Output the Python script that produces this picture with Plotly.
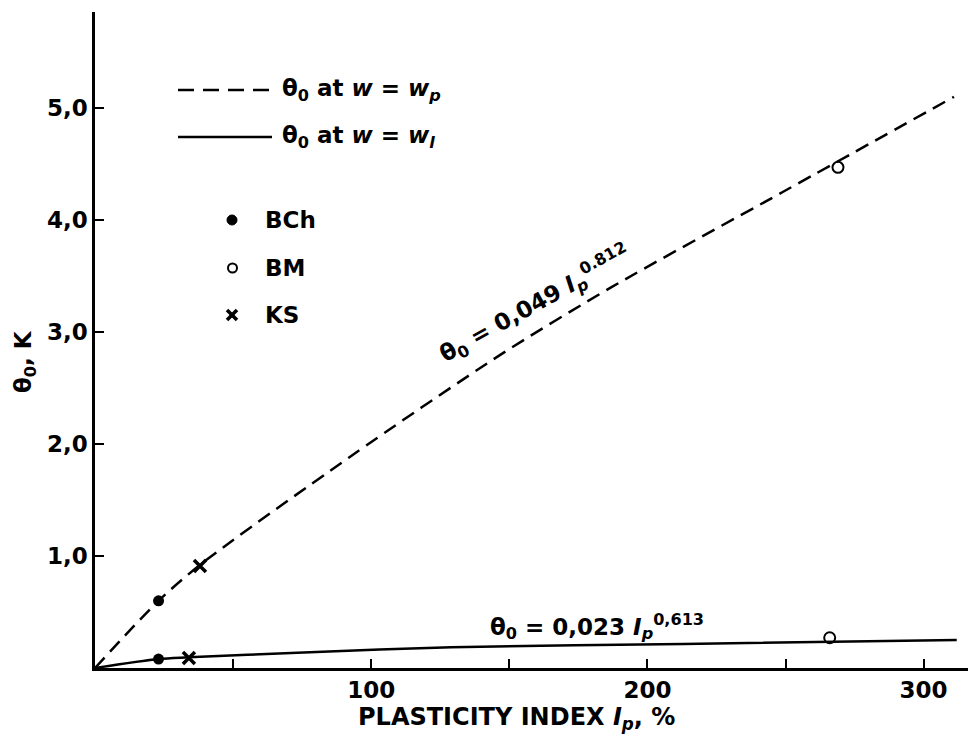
import plotly.graph_objects as go

# ---- data ----
wp_x = [0, 23, 38, 92, 147, 187, 249, 311]
wp_y = [0, 0.60, 0.92, 1.88, 2.80, 3.40, 4.25, 5.10]
wl_x = [0, 23, 34, 71, 129, 213, 312]
wl_y = [0, 0.08, 0.095, 0.134, 0.185, 0.215, 0.25]
bch_x = [23, 23]
bch_y = [0.60, 0.08]
bm_x = [269, 266]
bm_y = [4.47, 0.27]
ks_x = [38, 34]
ks_y = [0.91, 0.09]
x_tickvals = [50, 100, 150, 200, 250, 300]
x_ticktext = ["", "100", "", "200", "", "300"]
y_tickvals = [1, 2, 3, 4, 5]
y_ticktext = ["1,0", "2,0", "3,0", "4,0", "5,0"]

FONT = "DejaVu Sans"
BODY = 8  # default page margin of the html body
W, H = 976 - BODY, 751 - BODY
L, R, T, B = 95 - BODY, 0, 12 - BODY, 83
PW, PH = W - L - R, H - T - B
XMAX = PW / 2.762
YMAX = PH / 112.0
X0, Y0 = 95, 668  # page pixel of the plot origin


def px(xpage):
    return (xpage - X0) / PW


def py(ypage):
    return (Y0 - ypage) / PH


fig = go.Figure()
fig.add_trace(go.Scatter(x=wp_x, y=wp_y, mode="lines", line=dict(color="black", width=2.5, dash="14px,8px", shape="spline", smoothing=0.8), showlegend=False))
fig.add_trace(go.Scatter(x=wl_x, y=wl_y, mode="lines", line=dict(color="black", width=2.5, shape="spline", smoothing=0.8), showlegend=False))
fig.add_trace(go.Scatter(x=bch_x, y=bch_y, mode="markers", marker=dict(symbol="circle", size=11, color="black"), showlegend=False))
fig.add_trace(go.Scatter(x=bm_x, y=bm_y, mode="markers", marker=dict(symbol="circle-open", size=11, color="black", line=dict(width=2)), showlegend=False))
fig.add_trace(go.Scatter(x=ks_x, y=ks_y, mode="markers", marker=dict(symbol="x-thin-open", size=12, color="black", line=dict(width=3.5)), showlegend=False))

shapes = []
# legend line keys
shapes.append(dict(type="line", xref="paper", yref="paper", x0=px(178), x1=px(272), y0=py(90), y1=py(90), line=dict(color="black", width=2.5, dash="16px,9px")))
shapes.append(dict(type="line", xref="paper", yref="paper", x0=px(178), x1=px(272), y0=py(137), y1=py(137), line=dict(color="black", width=2.5)))
# legend marker keys
shapes.append(dict(type="circle", xref="paper", yref="paper", x0=px(227), x1=px(237), y0=py(225), y1=py(215), fillcolor="black", line=dict(color="black", width=1)))
shapes.append(dict(type="circle", xref="paper", yref="paper", x0=px(228), x1=px(237), y0=py(272.5), y1=py(263.5), line=dict(color="black", width=2)))
shapes.append(dict(type="line", xref="paper", yref="paper", x0=px(227), x1=px(237), y0=py(310), y1=py(320), line=dict(color="black", width=3.5)))
shapes.append(dict(type="line", xref="paper", yref="paper", x0=px(227), x1=px(237), y0=py(320), y1=py(310), line=dict(color="black", width=3.5)))

ann = []
tf = dict(family=FONT, size=23, color="black", weight="bold")
ann.append(dict(xref="paper", yref="paper", x=px(280), y=py(90), xanchor="left", yanchor="middle", showarrow=False,
                text="θ<sub>0</sub> at <i>w</i> = <i>w<sub>p</sub></i>", font=tf))
ann.append(dict(xref="paper", yref="paper", x=px(280), y=py(137), xanchor="left", yanchor="middle", showarrow=False,
                text="θ<sub>0</sub> at <i>w</i> = <i>w<sub>l</sub></i>", font=tf))
for txt, yy in [("BCh", 220), ("BM", 268), ("KS", 315)]:
    ann.append(dict(xref="paper", yref="paper", x=px(263), y=py(yy), xanchor="left", yanchor="middle", showarrow=False, text=txt, font=tf))
# curve labels
ann.append(dict(xref="paper", yref="paper", x=px(535), y=py(304), xanchor="center", yanchor="middle", showarrow=False, textangle=-29,
                text="θ<sub>0</sub> = 0,049 <i>I<sub>p</sub></i><sup>0.812</sup>", font=tf))
ann.append(dict(xref="paper", yref="paper", x=px(488), y=py(626), xanchor="left", yanchor="middle", showarrow=False,
                text="θ<sub>0</sub> = 0,023 <i>I<sub>p</sub></i><sup>0,613</sup>", font=tf))
# axis titles
ann.append(dict(xref="paper", yref="paper", x=px(516), y=py(718), xanchor="center", yanchor="middle", showarrow=False,
                text="PLASTICITY INDEX <i>I<sub>p</sub></i>, %", font=dict(family=FONT, size=24, color="black", weight="bold")))
ann.append(dict(xref="paper", yref="paper", x=px(25), y=py(362), xanchor="center", yanchor="middle", showarrow=False, textangle=-90,
                text="θ<sub>0</sub>, K", font=dict(family=FONT, size=23, color="black", weight="bold")))

fig.update_layout(
    width=W, height=H, margin=dict(l=L, r=R, t=T, b=B),
    paper_bgcolor="white", plot_bgcolor="white",
    shapes=shapes, annotations=ann, showlegend=False,
    xaxis=dict(range=[0, XMAX], showgrid=False, zeroline=False, showline=True, linecolor="black", linewidth=2.5,
               ticks="inside", ticklen=9, tickwidth=2, tickcolor="black", tickvals=x_tickvals, ticktext=x_ticktext,
               tickfont=dict(family=FONT, size=23, color="black", weight="bold")),
    yaxis=dict(range=[0, YMAX], showgrid=False, zeroline=False, showline=True, linecolor="black", linewidth=2.5,
               ticks="inside", ticklen=9, tickwidth=2, tickcolor="black", tickvals=y_tickvals, ticktext=y_ticktext,
               tickfont=dict(family=FONT, size=23, color="black", weight="bold")),
)
fig.write_html("out.html")
